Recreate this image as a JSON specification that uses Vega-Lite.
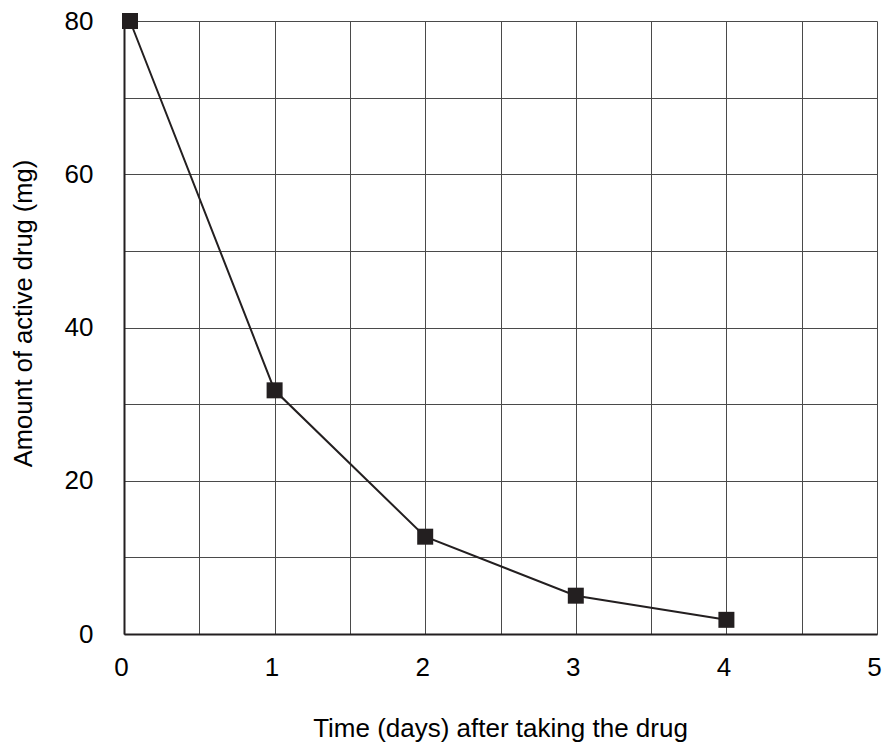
{
  "$schema": "https://vega.github.io/schema/vega-lite/v6.json",
  "width": 753,
  "height": 613,
  "autosize": "none",
  "padding": {"left": 124, "top": 21, "right": 16, "bottom": 110},
  "background": "white",
  "config": {
    "view": {"stroke": null},
    "font": "Liberation Sans",
    "axis": {
      "labelFont": "Liberation Sans",
      "titleFont": "Liberation Sans",
      "labelColor": "#000000",
      "titleColor": "#000000",
      "titleFontWeight": "normal",
      "ticks": false,
      "domainColor": "#231f20",
      "domainWidth": 2,
      "gridColor": "#4a4a4a",
      "gridOpacity": 1,
      "gridWidth": 1
    }
  },
  "data": {
    "values": [
      {"day": 0.04, "amount": 80},
      {"day": 1, "amount": 31.8},
      {"day": 2, "amount": 12.7},
      {"day": 3, "amount": 5},
      {"day": 4, "amount": 1.85}
    ]
  },
  "encoding": {
    "x": {
      "field": "day",
      "type": "quantitative",
      "scale": {"domain": [0, 5], "nice": false, "zero": false},
      "axis": {
        "values": [0, 0.5, 1, 1.5, 2, 2.5, 3, 3.5, 4, 4.5, 5],
        "labelExpr": "datum.value % 1 === 0 ? format(datum.value, 'd') : ''",
        "labelFontSize": 26,
        "labelPadding": 20,
        "labelOffset": -3,
        "labelFlush": false,
        "title": "Time (days) after taking the drug",
        "titleFontSize": 26,
        "titleX": 376,
        "titleY": 102,
        "titleAlign": "center",
        "titleBaseline": "alphabetic"
      }
    },
    "y": {
      "field": "amount",
      "type": "quantitative",
      "scale": {"domain": [0, 80], "nice": false, "zero": true},
      "axis": {
        "values": [0, 10, 20, 30, 40, 50, 60, 70, 80],
        "labelExpr": "datum.value % 20 === 0 ? format(datum.value, 'd') : ''",
        "labelFontSize": 26,
        "labelPadding": 31,
        "labelFlush": false,
        "title": "Amount of active drug (mg)",
        "titleFontSize": 25.5,
        "titleX": -93,
        "titleY": 292,
        "titleAlign": "center",
        "titleBaseline": "alphabetic"
      }
    }
  },
  "layer": [
    {"mark": {"type": "line", "color": "#231f20", "strokeWidth": 2}},
    {"mark": {"type": "point", "shape": "square", "filled": true, "size": 256, "color": "#231f20", "opacity": 1}}
  ]
}
